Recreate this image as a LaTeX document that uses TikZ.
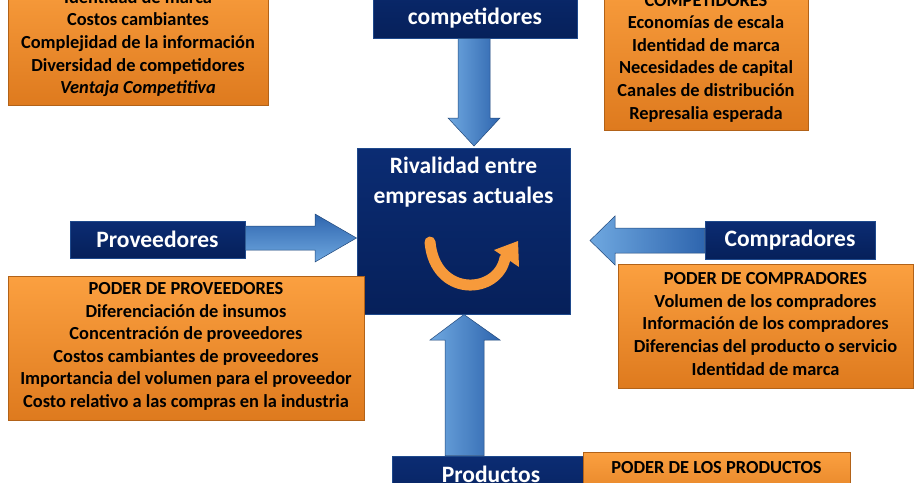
\documentclass[tikz,border=0pt]{standalone}
\usepackage{fontspec}
\setmainfont{Carlito}
\usetikzlibrary{calc}
\definecolor{navyA}{HTML}{0B2C73}
\definecolor{navyB}{HTML}{06205A}
\definecolor{orA}{HTML}{FBA040}
\definecolor{orB}{HTML}{DE7A1E}
\definecolor{blA}{HTML}{6FA8E0}
\definecolor{blB}{HTML}{2E65AE}
\tikzset{
 obox/.style={draw=orB!80!black,line width=0.6pt,top color=orA,bottom color=orB,inner sep=0pt},
 nbox/.style={draw=blB!60!navyB,line width=1pt,top color=navyA,bottom color=navyB,inner sep=0pt},
 otext/.style={font=\bfseries\fontsize{18.4}{22.6}\selectfont,align=center,text=black},
 ntext/.style={font=\bfseries\fontsize{23.5}{30}\selectfont,align=center,text=white},
 barrow/.style={draw=blB!70!black,line width=0.5pt},
}
\begin{document}
\begin{tikzpicture}[x=1pt,y=-1pt]
\path[use as bounding box] (0,0) rectangle (917,482);
% boxes
\node[obox,minimum width=260pt,minimum height=135pt] (tl) at (138,37.5) {};
\node[otext] (tlt) at (138,43.5) {Identidad de marca\\Costos cambiantes\\Complejidad de la información\\Diversidad de competidores\\\textit{Ventaja Competitiva}};
\node[nbox,minimum width=204pt,minimum height=70pt] (tc) at (475,3) {};
\node[ntext] (tct) at (475,18) {competidores};
\node[obox,minimum width=204pt,minimum height=160pt] (tr) at (706,50) {};
\node[otext] (trt) at (706,58) {COMPETIDORES\\Economías de escala\\Identidad de marca\\Necesidades de capital\\Canales de distribución\\Represalia esperada};
\node[nbox,minimum width=213pt,minimum height=166pt] (rival) at (463.5,231) {};
\node[ntext] (rivalt) at (463.5,182) {Rivalidad entre\\empresas actuales};
\node[nbox,minimum width=175pt,minimum height=37pt] (prov) at (157.5,239.5) {};
\node[ntext] at (prov) {Proveedores};
\node[obox,minimum width=356pt,minimum height=144pt] (pl) at (186,348) {};
\node[otext] at (186,346.5) {PODER DE PROVEEDORES\\Diferenciación de insumos\\Concentración de proveedores\\Costos cambiantes de proveedores\\Importancia del volumen para el proveedor\\Costo relativo a las compras en la industria};
\node[nbox,minimum width=170pt,minimum height=38pt] (comp) at (790,240) {};
\node[ntext] at (comp) {Compradores};
\node[obox,minimum width=295pt,minimum height=124pt] (cr) at (765.5,326) {};
\node[otext] at (765.5,324) {PODER DE COMPRADORES\\Volumen de los compradores\\Información de los compradores\\Diferencias del producto o servicio\\Identidad de marca};
\node[nbox,minimum width=198pt,minimum height=60pt] (prod) at (491,486) {};
\node[ntext,anchor=base] at (491,482) {Productos};
\node[obox,minimum width=267pt,minimum height=60pt] (pp) at (716.5,482) {};
\node[otext,anchor=base] at (716.5,473) {PODER DE LOS PRODUCTOS};
% arrows
\draw[barrow,left color=blB,right color=blA,shading angle=0] (prov.east|-0,226) -- (315,226) -- (315,214) -- (rival.west|-0,238) -- (315,262) -- (315,250) -- (prov.east|-0,250) -- cycle;
\draw[barrow,left color=blA,right color=blB] (comp.west|-0,228) -- (615,228) -- (615,216) -- (590,240.5) -- (615,265) -- (615,253) -- (comp.west|-0,253) -- cycle;
\draw[barrow,left color=blA,right color=blB] (458,0|-tc.south) -- (458,118) -- (448,118) -- (474,146) -- (500,118) -- (490,118) -- (490,0|-tc.south) -- cycle;
\draw[barrow,left color=blA,right color=blB] (445,0|-prod.north) -- (445,340) -- (430,340) -- (464,0|-rival.south) -- (500,340) -- (484,340) -- (484,0|-prod.north) -- cycle;
% circular arrow
\coordinate (a1) at (430,242);
\coordinate (a2) at (505,258);
\draw[line width=11pt,orA!85!orB,line cap=round] (a1) .. controls (435,298) and (498,295) .. (a2);
\fill[orA!85!orB] (494,250) -- (518,241) -- (519,267) -- cycle;
\end{tikzpicture}
\end{document}
